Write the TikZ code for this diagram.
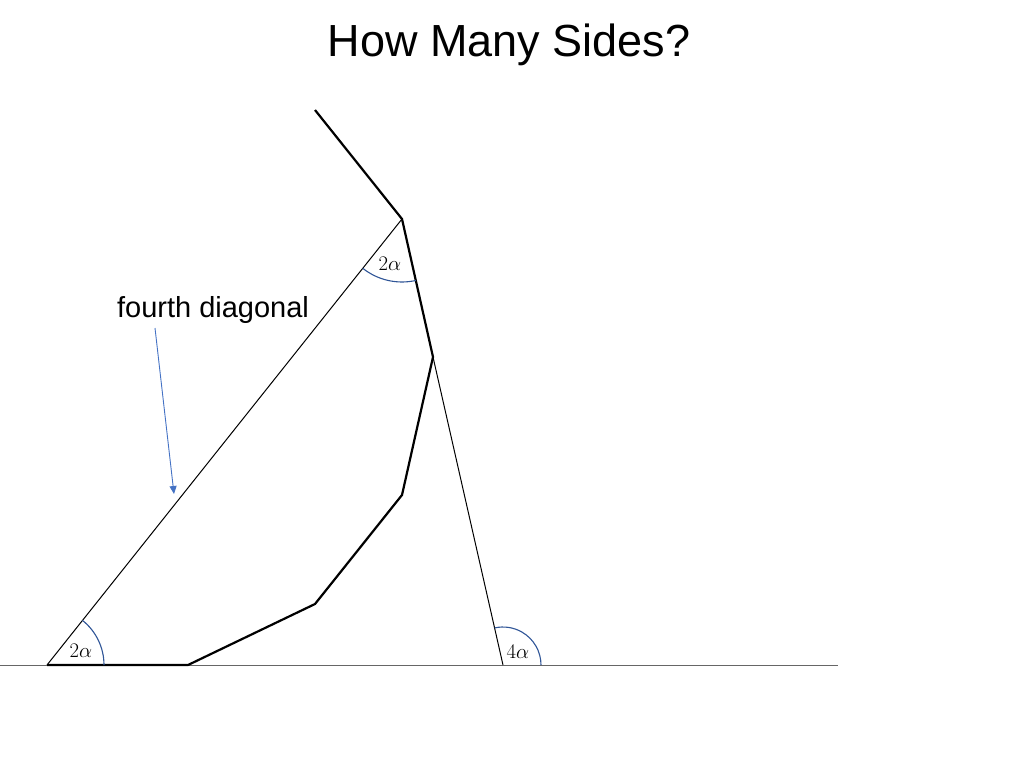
\documentclass[tikz,border=0pt]{standalone}
\usepackage{fontspec}
\setmainfont{Liberation Sans}
\usetikzlibrary{arrows.meta}
\definecolor{arcblue}{HTML}{2F5597}
\definecolor{arrowblue}{HTML}{4472C4}
\begin{document}
\begin{tikzpicture}[x=1pt,y=-1pt,
  poly/.style={line width=2.2pt,line join=miter},
  thin/.style={line width=1pt,black},
  angarc/.style={arcblue,line width=1.1pt},
  anglab/.style={font=\fontsize{22}{22}\selectfont,inner sep=0pt}]
\useasboundingbox (0,0) rectangle (1024,768);
\coordinate (L) at (0,665.5);
\coordinate (R) at (838,665.5);
\coordinate (A) at (47,665);
\coordinate (P1) at (188,665);
\coordinate (P2) at (315,604);
\coordinate (P3) at (402,495);
\coordinate (C) at (433,357);
\coordinate (B) at (402,219);
\coordinate (T) at (315,110);
\coordinate (D) at (503,665);
% baseline
\draw[line width=1.2pt,black!60] (L) -- (R);
% thin lines
\draw[thin] (A) -- (B);
\draw[thin] (C) -- (D);
% polygon
\draw[poly] (A) -- (P1) -- (P2) -- (P3) -- (C) -- (B) -- (T);
% angle arcs (y axis is flipped, so angles are negated)
\draw[angarc] ([shift={(0:57)}]A) arc[start angle=0,end angle=-51.5,radius=57];
\draw[angarc] ([shift={(-231.5:63)}]B) arc[start angle=-231.5,end angle=-282.7,radius=63];
\draw[angarc] ([shift={(0:38)}]D) arc[start angle=0,end angle=-102.8,radius=38];
\node[anglab] (l1) at (81,651) {$2\alpha$};
\node[anglab] (l2) at (390,264) {$2\alpha$};
\node[anglab] (l3) at (518,652) {$4\alpha$};
% title and label
\node[font=\fontsize{45}{45}\selectfont] (title) at (509,45) {How Many Sides?};
\node[font=\fontsize{29}{29}\selectfont] (fd) at (213,310) {fourth diagonal};
\coordinate (tip) at (174,494);
\draw[arrowblue,line width=0.9pt,-{Triangle[length=8pt,width=7pt]}] (155,328) -- (tip);
\end{tikzpicture}
\end{document}
